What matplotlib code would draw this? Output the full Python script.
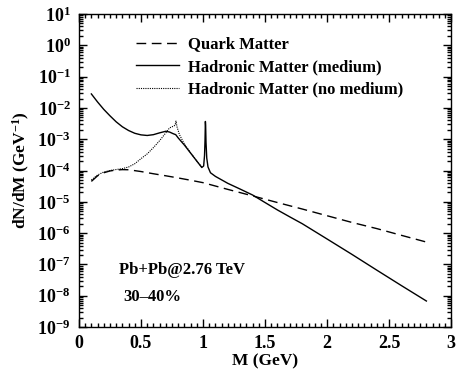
import math
import matplotlib
matplotlib.use('Agg')
import matplotlib.pyplot as plt
from matplotlib.ticker import MultipleLocator, LogLocator, FuncFormatter, NullFormatter

plt.rcParams['font.family'] = 'Liberation Serif'
plt.rcParams['font.weight'] = 'bold'
plt.rcParams['mathtext.fontset'] = 'custom'
plt.rcParams['mathtext.rm'] = 'Liberation Serif:bold'
plt.rcParams['mathtext.bf'] = 'Liberation Serif:bold'
plt.rcParams['mathtext.it'] = 'Liberation Serif:bold:italic'

# quark matter
m_qm = [0.1, 0.15, 0.2, 0.25, 0.3, 0.35, 0.4, 0.5, 0.6, 0.7, 0.8, 0.9, 1.0,
        1.2, 1.4, 1.6, 1.8, 2.0, 2.2, 2.4, 2.6, 2.8]
y_qm = [4.5e-5, 6.8e-5, 8.5e-5, 9.7e-5, 1.04e-4, 1.07e-4, 1.06e-4, 9.3e-5, 7.9e-5,
        6.8e-5, 5.8e-5, 4.9e-5, 4.1e-5, 2.5e-5, 1.55e-5, 9.5e-6, 5.9e-6, 3.6e-6,
        2.2e-6, 1.4e-6, 8.5e-7, 5.2e-7]

# hadronic matter (medium)
m_med = [0.1, 0.15, 0.2, 0.25, 0.3, 0.35, 0.4, 0.45, 0.5, 0.55, 0.6, 0.65, 0.7,
         0.73, 0.76, 0.78, 0.8, 0.85, 0.9, 0.95, 0.99, 1.005, 1.012, 1.016, 1.019,
         1.021, 1.024, 1.03, 1.04, 1.06, 1.1, 1.2, 1.3, 1.4, 1.5, 1.6, 1.7, 1.8,
         2.0, 2.2, 2.4, 2.6, 2.8]
y_med = [2.8e-2, 1.55e-2, 9.0e-3, 5.6e-3, 3.6e-3, 2.5e-3, 1.9e-3, 1.55e-3, 1.38e-3,
         1.32e-3, 1.4e-3, 1.6e-3, 1.8e-3, 1.7e-3, 1.5e-3, 1.4e-3, 1.1e-3, 6.5e-4,
         3.6e-4, 2.0e-4, 1.25e-4, 1.4e-4, 3e-4, 9e-4, 3.7e-3, 2.8e-3, 8e-4, 2.5e-4,
         1.3e-4, 8.5e-5, 6.5e-5, 3.9e-5, 2.55e-5, 1.65e-5, 9.5e-6, 5.5e-6, 3.3e-6,
         2.0e-6, 6.5e-7, 2.1e-7, 6.6e-8, 2.1e-8, 6.8e-9]

# hadronic matter (no medium)
m_vac = [0.1, 0.15, 0.2, 0.25, 0.3, 0.35, 0.4, 0.45, 0.5, 0.55, 0.6, 0.65, 0.7,
         0.73, 0.76, 0.775, 0.782, 0.79, 0.81, 0.85, 0.9, 0.95, 0.99]
y_vac = [5.0e-5, 7.2e-5, 9.0e-5, 1.0e-4, 1.08e-4, 1.15e-4, 1.3e-4, 1.65e-4, 2.4e-4,
         3.4e-4, 5.4e-4, 9e-4, 1.6e-3, 2.3e-3, 2.6e-3, 2.8e-3, 3.8e-3, 2.5e-3,
         1.4e-3, 7e-4, 3.7e-4, 2.0e-4, 1.3e-4]

fig = plt.figure(figsize=(4.59, 3.79), dpi=100)
ax = fig.add_axes([0.172, 0.137, 0.811, 0.826])

ax.plot(m_qm, y_qm, color='k', lw=1.0, dashes=(7, 4), label='Quark Matter')
ax.plot(m_vac, y_vac, color='k', lw=0.8, dashes=(1, 1), zorder=2)
ax.plot(m_med, y_med, color='k', lw=1.0, label='Hadronic Matter (medium)', zorder=3)
ax.plot([], [], color='k', lw=0.8, dashes=(1, 1), label='Hadronic Matter (no medium)')

ax.set_yscale('log')
ax.set_xlim(0, 3)
ax.set_ylim(1e-9, 10)

ax.xaxis.set_major_locator(MultipleLocator(0.5))
ax.xaxis.set_minor_locator(MultipleLocator(0.05))
ax.xaxis.set_major_formatter(FuncFormatter(lambda v, p: '%g' % v))
ax.yaxis.set_major_locator(LogLocator(base=10, numticks=20))
ax.yaxis.set_minor_locator(LogLocator(base=10, subs=range(2, 10), numticks=20))
ax.yaxis.set_minor_formatter(NullFormatter())
ax.yaxis.set_major_formatter(FuncFormatter(lambda v, p: r'$\mathrm{10^{%d}}$' % round(math.log10(v))))

ax.tick_params(which='both', direction='in', top=True, right=True, labelsize=13, width=1)
ax.tick_params(which='major', length=5.5, pad=6)
ax.tick_params(which='minor', length=2.8)
for s in ax.spines.values():
    s.set_linewidth(1.0)

ax.set_xlabel('M (GeV)', fontsize=12.5, fontweight='bold', labelpad=1)
ax.set_ylabel(r'dN/dM (GeV$^{\mathrm{-1}}$)', fontsize=12.5, fontweight='bold', labelpad=4)

ax.text(0.108, 0.182, 'Pb+Pb@2.76 TeV', transform=ax.transAxes, fontsize=12,
        fontweight='bold', va='center')
ax.text(0.118, 0.096, '30\u201340%', transform=ax.transAxes, fontsize=12,
        fontweight='bold', va='center')

leg = ax.legend(loc='upper left', bbox_to_anchor=(0.135, 0.95), frameon=False,
                fontsize=12, handlelength=2.6, handletextpad=0.55, labelspacing=0.4,
                borderaxespad=0)
for t in leg.get_texts():
    t.set_fontweight('bold')

fig.savefig('out.png', dpi=100)
